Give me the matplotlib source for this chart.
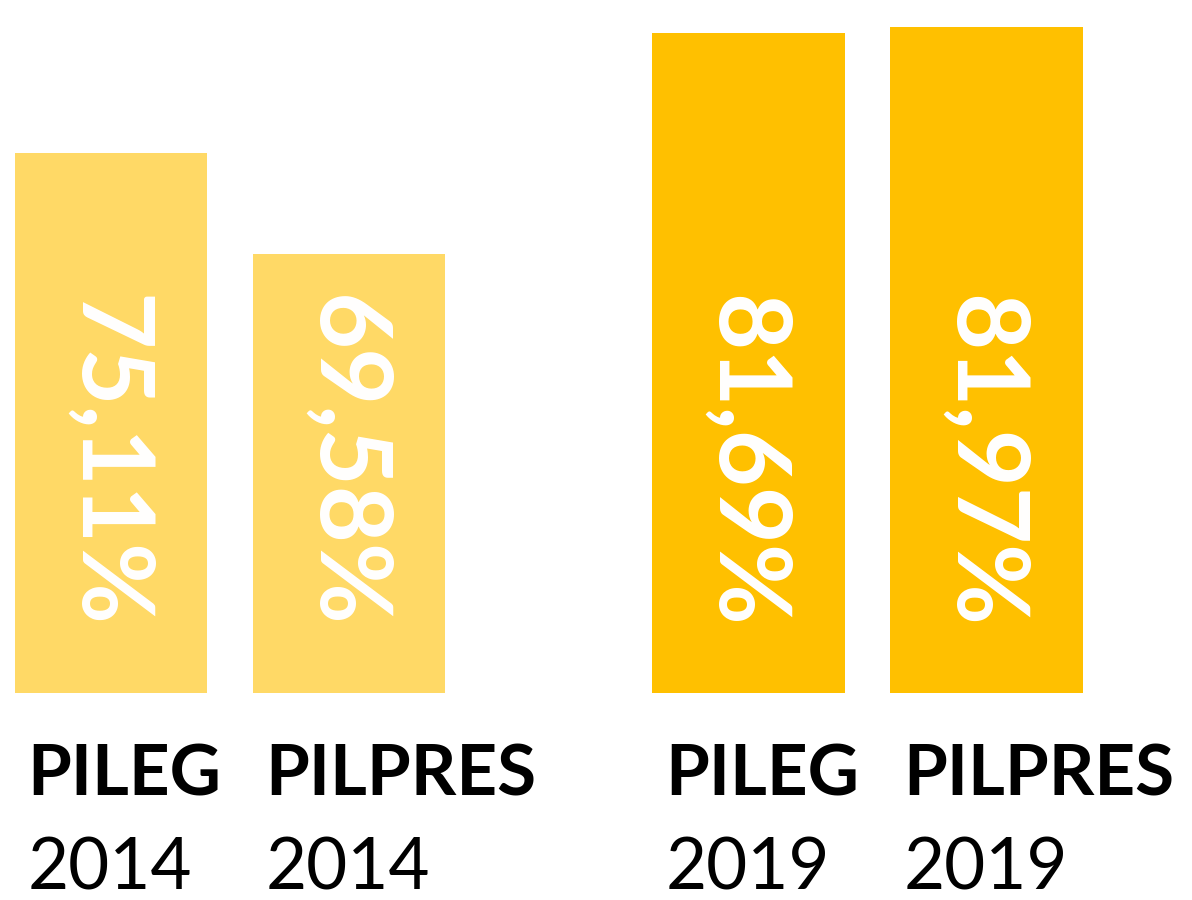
import numpy as np
import matplotlib.pyplot as plt

# data
labels = ["PILEG", "PILPRES", "PILEG", "PILPRES"]
years = ["2014", "2014", "2019", "2019"]
values = [75.11, 69.58, 81.69, 81.97]
value_text = ["75,11%", "69,58%", "81,69%", "81,97%"]

# layout
pos = np.array([0.0, 1.0, 2.68, 3.68])
colors = ["#FFD966", "#FFD966", "#FFC000", "#FFC000"]
baseline = 45.6
px_per_unit = 18.3

fig = plt.figure(figsize=(11.92, 9), dpi=100)
ax = fig.add_axes([0, 1 - 693 / 900, 1, 693 / 900])
ax.set_xlim(-111 / 238, (1192 - 111) / 238)
ax.set_ylim(baseline, baseline + 693 / px_per_unit)
ax.axis("off")

heights = np.array(values) - baseline
ax.bar(pos, heights, bottom=baseline, width=0.81, color=colors, edgecolor="none")

# value labels inside bars, rotated
for x, t in zip(pos, value_text):
    ax.text(x - 0.02, baseline + 232 / px_per_unit, t, rotation=-90, ha="center", va="center",
            color="white", fontsize=71, fontweight="bold", family="Lato")

# category labels below bars
for x, lab, yr in zip(pos, labels, years):
    xl = x - 0.405 + 0.055
    ax.text(xl, baseline - 50 / px_per_unit, lab, ha="left", va="top",
            fontsize=51, fontweight="bold", family="Lato", clip_on=False)
    ax.text(xl, baseline - 144 / px_per_unit, yr, ha="left", va="top",
            fontsize=51, family="Lato", clip_on=False)

fig.savefig("out.png", dpi=100)
